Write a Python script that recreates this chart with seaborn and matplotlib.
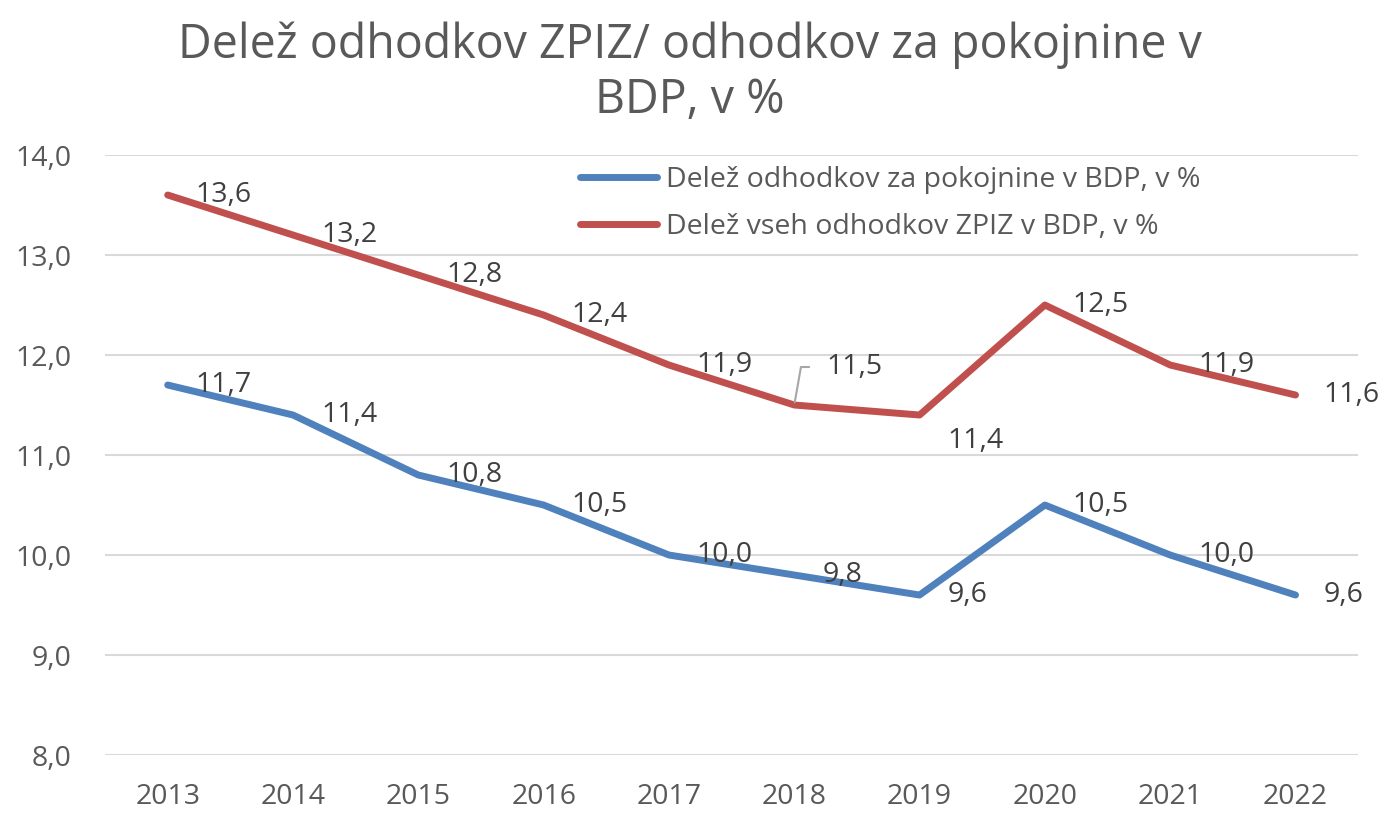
import matplotlib.pyplot as plt
import pandas as pd
import seaborn as sns

years = [2013, 2014, 2015, 2016, 2017, 2018, 2019, 2020, 2021, 2022]
pokojnine = [11.7, 11.4, 10.8, 10.5, 10.0, 9.8, 9.6, 10.5, 10.0, 9.6]
zpiz = [13.6, 13.2, 12.8, 12.4, 11.9, 11.5, 11.4, 12.5, 11.9, 11.6]
series_names = ["Delež odhodkov za pokojnine v BDP, v %",
                "Delež vseh odhodkov ZPIZ v BDP, v %"]
title_lines = ["Delež odhodkov ZPIZ/ odhodkov za pokojnine v", "BDP, v %"]
y_ticks = [8.0, 9.0, 10.0, 11.0, 12.0, 13.0, 14.0]

blue = "#4F81BD"
red = "#C0504D"
grey_text = "#595959"

sns.set_theme(style="white")
plt.rcParams["font.family"] = ["Open Sans", "DejaVu Sans"]

df = pd.DataFrame({
    "leto": [str(y) for y in years] * 2,
    "vrednost": pokojnine + zpiz,
    "serija": [series_names[0]] * len(years) + [series_names[1]] * len(years),
})

fig = plt.figure(figsize=(13.93, 8.15), dpi=100)
ax = fig.add_axes([0.0754, 0.0736, 0.8996, 0.7362])

for y in y_ticks:
    ax.axhline(y, color="#D9D9D9", lw=1.5, zorder=0)

sns.lineplot(data=df, x="leto", y="vrednost", hue="serija",
             palette=[blue, red], linewidth=5, ax=ax, sort=False)
for line in ax.lines:
    line.set_solid_capstyle("round")

ax.set_xlim(-0.5, len(years) - 0.5)
ax.set_ylim(8.0, 14.0)
ax.set_yticks(y_ticks)
ax.set_yticklabels([f"{v:.1f}".replace(".", ",") for v in y_ticks])
ax.set_xlabel("")
ax.set_ylabel("")
ax.tick_params(axis="both", length=0, labelsize=20.5, colors=grey_text)
ax.tick_params(axis="y", pad=24)
ax.tick_params(axis="x", pad=20)
for s in ax.spines.values():
    s.set_visible(False)

# oznake podatkov
def label(i, v, dx=28, dy=0, **kw):
    ax.annotate(f"{v:.1f}".replace(".", ","), (i, v), xytext=(dx, dy),
                textcoords="offset pixels", va="center", ha="left",
                fontsize=20.5, color="#404040", **kw)

for i, v in enumerate(pokojnine):
    label(i, v)
for i, v in enumerate(zpiz):
    if years[i] == 2019:
        label(i, v, dy=-26)
    elif years[i] == 2018:
        label(i, v, dx=32, dy=38,
              arrowprops=dict(arrowstyle="-", color="#A6A6A6", lw=1.5,
                              connectionstyle="angle,angleA=0,angleB=80",
                              relpos=(0, 0.5), shrinkA=10, shrinkB=2))
    else:
        label(i, v)

leg = ax.legend(loc="upper left", bbox_to_anchor=(0.37, 1.0), frameon=False,
                fontsize=20.5, handlelength=2.7, handletextpad=0.3,
                labelspacing=0.65, borderaxespad=0.0)
for t in leg.get_texts():
    t.set_color(grey_text)

fig.text(0.495, 0.945, title_lines[0], ha="center", va="center",
         fontsize=33.5, color=grey_text)
fig.text(0.495, 0.877, title_lines[1], ha="center", va="center",
         fontsize=33.5, color=grey_text)

fig.savefig("out.png", dpi=100)
